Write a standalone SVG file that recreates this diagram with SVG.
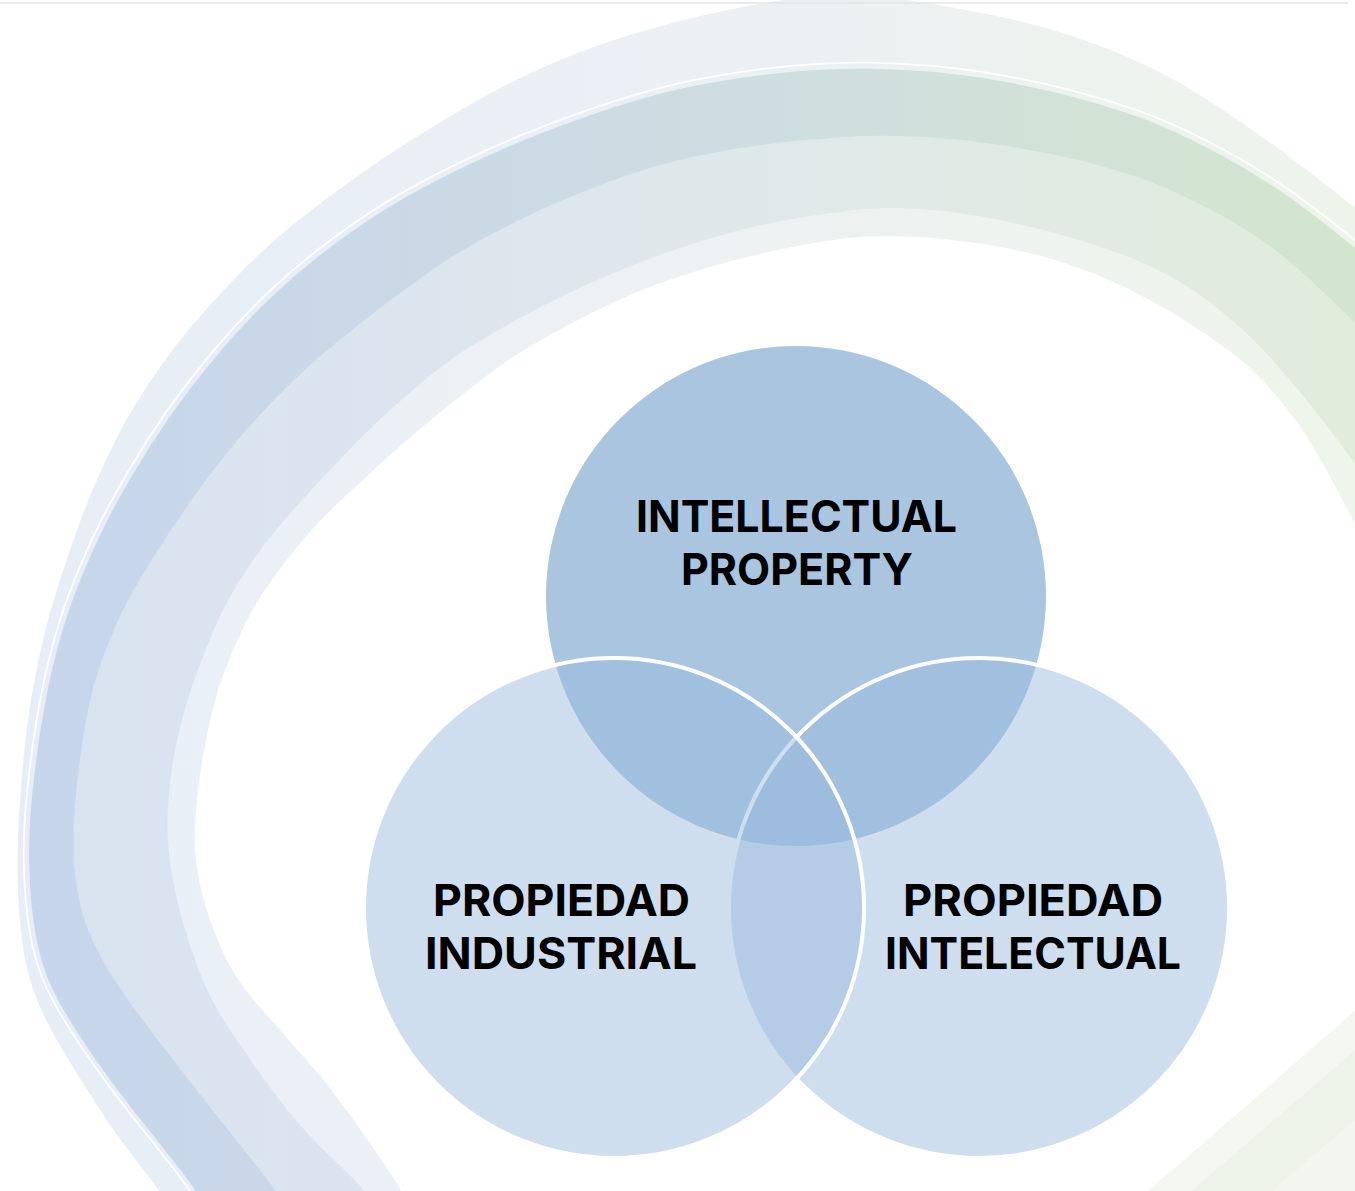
<svg xmlns="http://www.w3.org/2000/svg" width="1355" height="1191" viewBox="0 0 1355 1191">
<style>
.lbl{font-family:Inter,"Liberation Sans","DejaVu Sans",sans-serif;font-weight:700;font-size:44px;fill:#000}
.bot{fill:#98b9dc;fill-opacity:0.47;stroke:#fff;stroke-width:4}
</style>
<defs>
<linearGradient id="gOuter" gradientUnits="userSpaceOnUse" x1="0" y1="0" x2="1355" y2="0">
<stop offset="0" stop-color="#e7edf6"/><stop offset="0.5" stop-color="#eaf0f4"/><stop offset="0.75" stop-color="#ecf2ef"/><stop offset="1" stop-color="#edf4ea"/>
</linearGradient>
<linearGradient id="gDark" gradientUnits="userSpaceOnUse" x1="0" y1="0" x2="1355" y2="0">
<stop offset="0" stop-color="#c6d5ec"/><stop offset="0.3" stop-color="#cad8e6"/><stop offset="0.6" stop-color="#cfdedf"/><stop offset="0.85" stop-color="#d2e3d3"/><stop offset="1" stop-color="#d3e4cf"/>
</linearGradient>
<linearGradient id="gMed" gradientUnits="userSpaceOnUse" x1="0" y1="0" x2="1355" y2="0">
<stop offset="0" stop-color="#d8e2f0"/><stop offset="0.3" stop-color="#dce5ee"/><stop offset="0.6" stop-color="#dfe9e8"/><stop offset="1" stop-color="#e1ecdc"/>
</linearGradient>
<linearGradient id="gLight" gradientUnits="userSpaceOnUse" x1="0" y1="0" x2="1355" y2="0">
<stop offset="0" stop-color="#e9eff8"/><stop offset="0.5" stop-color="#ecf1f3"/><stop offset="1" stop-color="#eef5ea"/>
</linearGradient>
</defs>
<rect width="1355" height="1191" fill="#fff"/>
<g id="swoosh">
<path fill="url(#gOuter)" d="M168,1205 L164,1198 Q160,1191 140,1165.5 Q120,1140 103.5,1115 Q87,1090 68.5,1060 Q50,1030 38.5,1003.5 Q27,977 22.5,943.5 Q18,910 17.5,877.5 Q17,845 19.5,807.5 Q22,770 26,735 Q30,700 37.5,665 Q45,630 50,612.5 Q55,595 67.5,557.5 Q80,520 92.5,490 Q105,460 119.5,432.5 Q134,405 154.5,375 Q175,345 199,317.5 Q223,290 246.5,266.5 Q270,243 295,223 Q320,203 350,181.5 Q380,160 410,141 Q440,122 476.5,101 Q513,80 556.5,61.5 Q600,43 650,29 Q700,15 745,6.5 Q790,-2 825,-5 Q860,-8 890,-3 Q920,2 955,8 Q990,14 1029,23.5 Q1068,33 1118,53 Q1168,73 1218,106.5 Q1268,140 1311.5,173.5 Q1355,207 1370,221 L1385,235 L1385,1205 Z"/>
<path fill="url(#gDark)" d="M202,1205 L199.5,1198 Q197,1191 177,1165.5 Q157,1140 137,1115 Q117,1090 96,1060 Q75,1030 60,1003.5 Q45,977 38.5,948.5 Q32,920 30,885 Q28,850 30.5,815 Q33,780 39,740 Q45,700 51.5,672.5 Q58,645 65,622.5 Q72,600 83.5,572.5 Q95,545 105,525 Q115,505 132.5,475 Q150,445 171,415 Q192,385 218.5,353.5 Q245,322 272.5,296 Q300,270 330,247.5 Q360,225 390,206.5 Q420,188 470,164 Q520,140 586.5,116.5 Q653,93 706.5,83.5 Q760,74 800,71 Q840,68 867.5,68.5 Q895,69 927.5,71.5 Q960,74 997.5,80.5 Q1035,87 1067.5,95.5 Q1100,104 1134,115.5 Q1168,127 1218,153.5 Q1268,180 1311.5,213.5 Q1355,247 1370,261 L1385,275 L1385,1205 Z"/>
<path fill="none" stroke="#fff" stroke-width="1.8" stroke-opacity="0.9" transform="translate(800 900) scale(1.007) translate(-800 -900)" d="M202,1205 L199.5,1198 Q197,1191 177,1165.5 Q157,1140 137,1115 Q117,1090 96,1060 Q75,1030 60,1003.5 Q45,977 38.5,948.5 Q32,920 30,885 Q28,850 30.5,815 Q33,780 39,740 Q45,700 51.5,672.5 Q58,645 65,622.5 Q72,600 83.5,572.5 Q95,545 105,525 Q115,505 132.5,475 Q150,445 171,415 Q192,385 218.5,353.5 Q245,322 272.5,296 Q300,270 330,247.5 Q360,225 390,206.5 Q420,188 470,164 Q520,140 586.5,116.5 Q653,93 706.5,83.5 Q760,74 800,71 Q840,68 867.5,68.5 Q895,69 927.5,71.5 Q960,74 997.5,80.5 Q1035,87 1067.5,95.5 Q1100,104 1134,115.5 Q1168,127 1218,153.5 Q1268,180 1311.5,213.5 Q1355,247 1370,261 L1385,275"/>
<path fill="url(#gMed)" d="M283,1205 L280,1198 Q277,1191 248.5,1155.5 Q220,1120 193.5,1086 Q167,1052 143.5,1021 Q120,990 105,964.5 Q90,939 83,914.5 Q76,890 74,865 Q72,840 75,805 Q78,770 83.5,735 Q89,700 97,675 Q105,650 116,625 Q127,600 148.5,565 Q170,530 195,495 Q220,460 244,432.5 Q268,405 294,380 Q320,355 355,327.5 Q390,300 418,280 Q446,260 466.5,248 Q487,236 523.5,218 Q560,200 606.5,182.5 Q653,165 701.5,155 Q750,145 795,141 Q840,137 862.5,136 Q885,135 922.5,137 Q960,139 997.5,144.5 Q1035,150 1067.5,157.5 Q1100,165 1134,176 Q1168,187 1218,213.5 Q1268,240 1311.5,281 Q1355,322 1370,338.5 L1385,355 L1385,1205 Z"/>
<path fill="url(#gLight)" d="M372,1205 L369.5,1198 Q367,1191 333.5,1159.5 Q300,1128 275,1094 Q250,1060 230,1030 Q210,1000 198.5,969.5 Q187,939 179.5,909.5 Q172,880 169,853 Q166,826 169,793 Q172,760 179.5,730 Q187,700 196,675 Q205,650 216,625 Q227,600 242.5,576 Q258,552 274,532.5 Q290,513 307.5,494 Q325,475 352.5,446.5 Q380,418 413,390 Q446,362 466.5,349 Q487,336 523.5,316 Q560,296 606.5,276 Q653,256 701.5,241 Q750,226 795,218.5 Q840,211 866,209 Q892,207 926,209.5 Q960,212 997.5,219.5 Q1035,227 1067.5,236.5 Q1100,246 1127.5,256.5 Q1155,267 1180,282 Q1205,297 1230,318.5 Q1255,340 1280,368.5 Q1305,397 1330,430 Q1355,463 1367.5,481.5 L1380,500 L1385,500 L1385,1205 Z"/>
<path fill="#fff" d="M408,1205 L405.5,1198 Q403,1191 368,1140.5 Q333,1090 306.5,1060 Q280,1030 256.5,1003.5 Q233,977 219,943.5 Q205,910 199,880 Q193,850 195.5,815 Q198,780 206,740 Q214,700 223,675 Q232,650 244.5,625 Q257,600 273.5,577.5 Q290,555 305,537.5 Q320,520 338.5,502.5 Q357,485 388.5,456.5 Q420,428 455.5,400 Q491,372 505.5,362 Q520,352 550,335 Q580,318 616.5,301 Q653,284 701.5,269.5 Q750,255 795,246.5 Q840,238 866,236.5 Q892,235 926,237.5 Q960,240 997.5,246.5 Q1035,253 1067.5,264 Q1100,275 1127.5,288.5 Q1155,302 1180,317.5 Q1205,333 1230,351.5 Q1255,370 1280,400 Q1305,430 1330,476.5 Q1355,523 1365,544 L1375,565 L1385,565 L1385,1205 Z"/>
<path fill="#f3f7f0" d="M1143,1195 Q1231,1120 1360,1006 L1360,1195 Z"/>
<path fill="#edf3e8" d="M1187,1195 Q1262,1130 1360,1046 L1360,1195 Z"/>
<path fill="#f2f6ee" d="M1267,1195 Q1310,1158 1360,1116 L1360,1195 Z"/>
<line x1="0" y1="3" x2="1348" y2="3" stroke="#e4e4e4" stroke-width="1.5"/>
</g>
<g id="node-top">
<circle cx="796" cy="596" r="250" fill="#a9c5e0"/>
<text class="lbl" x="636" y="532" textLength="321" lengthAdjust="spacingAndGlyphs">INTELLECTUAL</text>
<text class="lbl" x="681" y="585" textLength="232" lengthAdjust="spacingAndGlyphs">PROPERTY</text>
</g>
<g id="node-right">
<circle class="bot" cx="979" cy="908" r="250"/>
</g>
<g id="node-left">
<circle class="bot" cx="614" cy="908" r="250"/>
</g>
<g id="labels-bottom">
<text class="lbl" x="433" y="916" textLength="257" lengthAdjust="spacingAndGlyphs">PROPIEDAD</text>
<text class="lbl" x="425" y="969" textLength="272" lengthAdjust="spacingAndGlyphs">INDUSTRIAL</text>
<text class="lbl" x="903" y="916" textLength="260" lengthAdjust="spacingAndGlyphs">PROPIEDAD</text>
<text class="lbl" x="885" y="969" textLength="296" lengthAdjust="spacingAndGlyphs">INTELECTUAL</text>
</g>
<g id="connectors"/>
</svg>
